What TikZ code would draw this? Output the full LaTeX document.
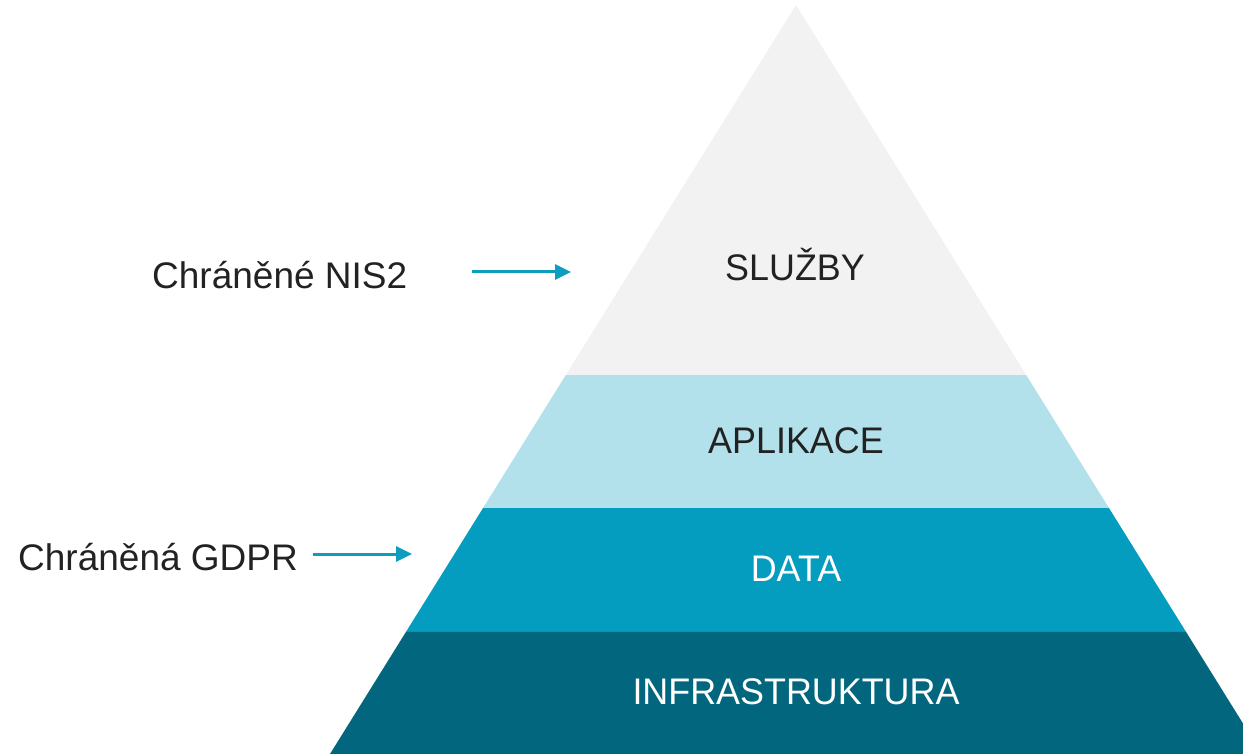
\documentclass[tikz,border=0pt]{standalone}
\usepackage{fontspec}
\setmainfont{Liberation Sans}[FakeStretch=0.97]
\newfontfamily\labelfont{Liberation Sans}[FakeStretch=1.0]
\usetikzlibrary{calc,arrows.meta}
\definecolor{layerTop}{HTML}{F2F2F2}
\definecolor{layerApp}{HTML}{B2E0EB}
\definecolor{layerData}{HTML}{049CBF}
\definecolor{layerInfra}{HTML}{02677E}
\definecolor{txtDark}{HTML}{222222}
\definecolor{arrowBlue}{HTML}{0E9DBE}
\tikzset{
  layertext/.style={anchor=base, inner sep=0pt, font=\fontsize{37}{40}\selectfont},
  sidelabel/.style={anchor=base west, inner sep=0pt, text=txtDark, font=\labelfont\fontsize{37}{40}\selectfont},
  pointer/.style={draw=arrowBlue, line width=3pt, -{Triangle[length=16pt,width=15pt]}}
}
\begin{document}
\begin{tikzpicture}[x=1pt,y=-1pt]
  \useasboundingbox (0,0) rectangle (1243,754);
  \clip (0,0) rectangle (1243,754);
  % pyramid corners
  \coordinate (apex) at (796,5);
  \coordinate (bl) at (330,754);
  \coordinate (br) at (1262,754);
  % layer boundaries along the sides
  \coordinate (l1) at ($(apex)!0.494!(bl)$);
  \coordinate (r1) at ($(apex)!0.494!(br)$);
  \coordinate (l2) at ($(apex)!0.6716!(bl)$);
  \coordinate (r2) at ($(apex)!0.6716!(br)$);
  \coordinate (l3) at ($(apex)!0.837!(bl)$);
  \coordinate (r3) at ($(apex)!0.837!(br)$);
  % layers
  \fill[layerTop] (apex) -- (r1) -- (l1) -- cycle;
  \fill[layerApp] (l1) -- (r1) -- (r2) -- (l2) -- cycle;
  \fill[layerData] (l2) -- (r2) -- (r3) -- (l3) -- cycle;
  \fill[layerInfra] (l3) -- (r3) -- (br) -- (bl) -- cycle;
  % layer names
  \node[layertext, text=txtDark] (sluzby) at (795,280) {SLUŽBY};
  \node[layertext, text=txtDark] (aplikace) at (796,453) {APLIKACE};
  \node[layertext, text=white] (data) at (796,581) {DATA};
  \node[layertext, text=white] (infra) at (796,704) {INFRASTRUKTURA};
  % side labels with pointers
  \node[sidelabel] (nis) at (152,288) {Chráněné NIS2};
  \node[sidelabel] (gdpr) at (18,570) {Chráněná GDPR};
  \coordinate (nisStart) at (472,272);
  \coordinate (nisEnd) at (571,272);
  \coordinate (gdprStart) at (313,554);
  \coordinate (gdprEnd) at (412,554);
  \draw[pointer] (nisStart) -- (nisEnd);
  \draw[pointer] (gdprStart) -- (gdprEnd);
\end{tikzpicture}
\end{document}
